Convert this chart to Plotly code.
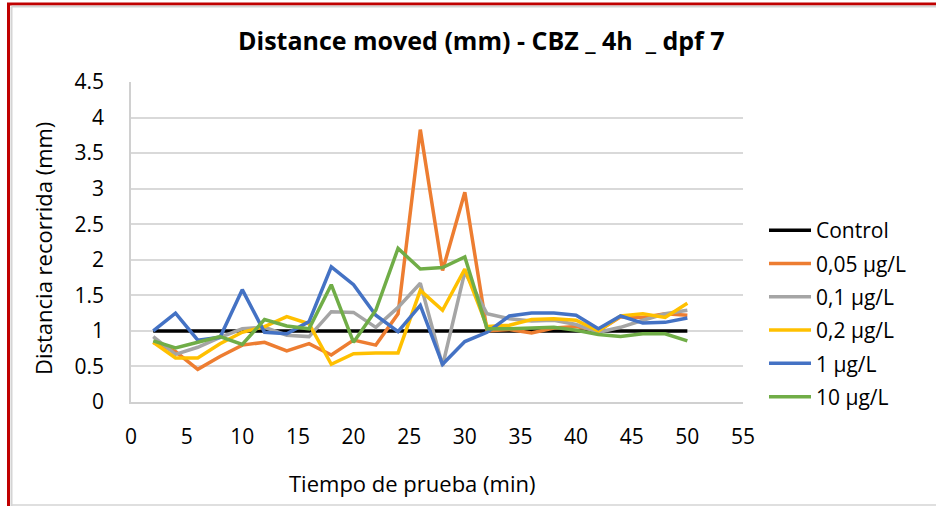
import plotly.graph_objects as go

# Test time (min) and mean distance moved per concentration group
tiempo = [2, 4, 6, 8, 10, 12, 14, 16, 18, 20, 22, 24, 26, 28, 30, 32, 34, 36, 38, 40, 42, 44, 46, 48, 50]
control = [1, 1, 1, 1, 1, 1, 1, 1, 1, 1, 1, 1, 1, 1, 1, 1, 1, 1, 1, 1, 1, 1, 1, 1, 1]
c_005 = [0.84, 0.71, 0.46, 0.64, 0.80, 0.84, 0.72, 0.82, 0.66, 0.87, 0.80, 1.24, 3.83, 1.85, 2.95,
         1.00, 1.02, 0.97, 1.04, 1.06, 1.00, 1.20, 1.19, 1.24, 1.22]
c_01 = [0.92, 0.67, 0.77, 0.91, 1.03, 1.05, 0.94, 0.92, 1.27, 1.26, 1.05, 1.33, 1.67, 0.51, 1.83,
        1.24, 1.17, 1.14, 1.15, 1.09, 0.98, 1.05, 1.15, 1.24, 1.29]
c_02 = [0.84, 0.62, 0.62, 0.82, 0.98, 1.06, 1.20, 1.10, 0.53, 0.68, 0.69, 0.69, 1.57, 1.29, 1.87,
        1.06, 1.08, 1.16, 1.17, 1.15, 1.00, 1.21, 1.24, 1.19, 1.39]
c_1 = [1.00, 1.25, 0.87, 0.91, 1.58, 0.98, 0.96, 1.13, 1.90, 1.65, 1.22, 0.99, 1.36, 0.53, 0.85,
       0.98, 1.21, 1.25, 1.25, 1.22, 1.03, 1.21, 1.11, 1.12, 1.18]
c_10 = [0.86, 0.76, 0.84, 0.92, 0.81, 1.16, 1.07, 1.03, 1.65, 0.84, 1.29, 2.16, 1.87, 1.89, 2.04,
        1.03, 1.03, 1.04, 1.05, 1.01, 0.95, 0.92, 0.96, 0.96, 0.86]

series_names = ["Control", "0,05 \u00b5g/L", "0,1 \u00b5g/L", "0,2 \u00b5g/L", "1 \u00b5g/L", "10 \u00b5g/L"]
series_values = [control, c_005, c_01, c_02, c_1, c_10]
series_colors = ["#000000", "#ED7D31", "#A5A5A5", "#FFC000", "#4472C4", "#70AD47"]

FONT = "Open Sans"

fig = go.Figure()
for i, (name, vals, col) in enumerate(zip(series_names, series_values, series_colors)):
    fig.add_trace(go.Scatter(
        x=tiempo, y=vals, name=name, mode="lines",
        line=dict(color=col, width=3.5),
        legendgroup=f"g{i}",
    ))

# plot area geometry in pixels (used to place annotations and frame lines)
W, H = 936, 506
L, R, T, B = 131, 193, 82, 104
PW, PH = W - L - R, H - T - B


def px(xp):
    return (xp - L) / PW


def py(yp):
    return (H - B - yp) / PH


shapes = [
    # outer frame: red border with a light shadow inside
    dict(type="line", xref="paper", yref="paper", x0=px(8.5), x1=px(8.5), y0=py(510), y1=py(4),
         line=dict(color="#C00000", width=3)),
    dict(type="line", xref="paper", yref="paper", x0=px(7), x1=px(945), y0=py(4), y1=py(4),
         line=dict(color="#C00000", width=3)),
    dict(type="line", xref="paper", yref="paper", x0=px(11.5), x1=px(11.5), y0=py(510), y1=py(6.5),
         line=dict(color="#D4D4D4", width=2)),
    dict(type="line", xref="paper", yref="paper", x0=px(11.5), x1=px(945), y0=py(6.5), y1=py(6.5),
         line=dict(color="#D4D4D4", width=2)),
    dict(type="line", xref="paper", yref="paper", x0=px(11.5), x1=px(945), y0=py(505), y1=py(505),
         line=dict(color="#D4D4D4", width=1.5)),
]

annotations = [
    dict(text="<b>Distance moved (mm) - CBZ _ 4h\u00a0\u00a0_ dpf 7</b>", xref="paper", yref="paper",
         x=px(481), y=py(40), xanchor="center", yanchor="middle", showarrow=False,
         font=dict(family=FONT, size=25, color="#000000")),
    dict(text="Tiempo de prueba (min)", xref="paper", yref="paper",
         x=px(412), y=py(483), xanchor="center", yanchor="middle", showarrow=False,
         font=dict(family=FONT, size=22, color="#000000")),
    dict(text="Distancia recorrida (mm)", xref="paper", yref="paper", textangle=-90,
         x=px(43), y=py(249), xanchor="center", yanchor="middle", showarrow=False,
         font=dict(family=FONT, size=22, color="#000000")),
]

fig.update_layout(
    width=W, height=H,
    margin=dict(l=L, r=R, t=T, b=B, pad=0),
    paper_bgcolor="white", plot_bgcolor="white",
    font=dict(family=FONT, size=21, color="#000000"),
    showlegend=True,
    legend=dict(x=px(764), y=py(210), xanchor="left", yanchor="top",
                font=dict(family=FONT, size=21, color="#000000"),
                bgcolor="rgba(0,0,0,0)", tracegroupgap=3, traceorder="grouped",
                itemwidth=42),
    shapes=shapes,
    annotations=annotations,
)

fig.update_xaxes(range=[0, 55], dtick=5, tick0=0, showgrid=False, zeroline=False,
                 showline=True, linecolor="#D0D0D0", linewidth=1.5, ticks="",
                 ticklabelstandoff=15, tickfont=dict(family=FONT, size=21, color="#000000"))
fig.update_yaxes(range=[0, 4.5], dtick=0.5, tick0=0, showgrid=True, gridcolor="#D9D9D9",
                 gridwidth=1.5, zeroline=False, showline=True, linecolor="#D0D0D0",
                 linewidth=1.5, ticks="", ticklabelstandoff=21,
                 tickfont=dict(family=FONT, size=21, color="#000000"))

fig.write_html("out.html")
